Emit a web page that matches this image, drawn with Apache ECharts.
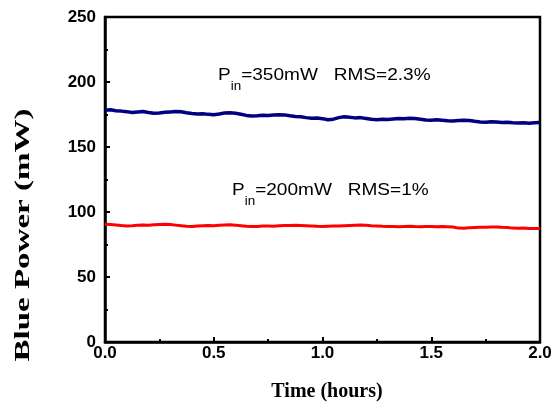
<!DOCTYPE html>
<html>
<head>
<meta charset="utf-8">
<script src="https://cdn.jsdelivr.net/npm/echarts@6/dist/echarts.min.js"></script>
<style>
html,body{margin:0;padding:0;background:#fff;}
#chart{width:556px;height:403px;}
</style>
</head>
<body>
<div id="chart"></div>
<script>
// Time sampling step (hours) for the recorded traces
const timeStep = 0.025;

// Blue power at Pin = 350 mW (mW)
const blue350 = [
  178.3,178.6,177.9,177.6,177.2,176.5,177.0,177.3,176.6,176.0,
  176.2,176.7,177.0,177.3,177.1,176.4,175.8,175.3,175.6,175.1,
  174.8,175.4,176.1,176.4,176.0,175.2,174.3,173.8,174.1,174.5,
  174.2,174.6,174.9,174.7,174.0,173.5,173.2,172.6,172.1,172.3,
  171.8,170.9,171.4,172.6,173.3,172.8,172.4,172.6,172.0,171.3,
  171.0,171.4,171.2,171.6,172.0,171.7,172.1,172.0,171.4,170.8,
  170.5,170.9,170.6,170.2,170.0,170.3,170.6,170.4,169.8,169.3,
  169.0,169.4,169.2,168.9,169.1,168.7,168.4,168.6,168.3,168.6,
  168.9
];

// Blue power at Pin = 200 mW (mW)
const red200 = [
  90.6,90.3,90.0,89.6,89.3,89.5,89.8,90.0,89.9,90.2,
  90.4,90.5,90.3,89.9,89.5,89.0,88.8,89.2,89.4,89.6,
  89.5,89.8,90.0,90.1,89.9,89.5,89.1,88.8,88.9,89.2,
  89.3,89.1,89.4,89.6,89.7,89.8,89.6,89.4,89.2,89.0,
  88.9,89.1,89.3,89.2,89.5,89.7,89.9,90.0,89.8,89.5,
  89.3,89.0,88.8,88.9,88.7,88.9,89.0,88.8,88.7,88.9,
  88.8,88.7,88.8,88.6,88.4,87.6,87.5,87.8,88.0,88.2,
  88.3,88.4,88.5,88.2,88.0,87.6,87.5,87.7,87.4,87.3,
  87.4
];

const xTicks = { min: 0, max: 2, interval: 0.5 };
const yTicks = { min: 0, max: 250, interval: 50 };

const xTitle = 'Time (hours)';
const yTitle = 'Blue Power (mW)';
const label350 = ['P', 'in', '=350mW   RMS=2.3%'];
const label200 = ['P', 'in', '=200mW   RMS=1%'];

const toPairs = arr => arr.map((v, i) => [+(i * timeStep).toFixed(3), v]);

const chart = echarts.init(document.getElementById('chart'), null, { renderer: 'canvas' });

const richStyle = {
  a: { fontSize: 17, fontFamily: 'Liberation Sans, Arial, sans-serif', fill: '#000', verticalAlign: 'top', lineHeight: 17 },
  s: { fontSize: 12, fontFamily: 'Liberation Sans, Arial, sans-serif', fill: '#000', verticalAlign: 'top', lineHeight: 12, padding: [14, 0, 0, 0] }
};
const richText = parts => '{a|' + parts[0] + '}{s|' + parts[1] + '}{a|' + parts[2] + '}';

chart.setOption({
  animation: false,
  backgroundColor: '#fff',
  grid: {
    left: 105, right: 16, top: 17, bottom: 61,
    containLabel: false,
    outerBoundsMode: 'none',
    show: true, borderColor: '#000', borderWidth: 2.5, backgroundColor: 'transparent'
  },
  xAxis: {
    type: 'value',
    min: xTicks.min, max: xTicks.max, interval: xTicks.interval,
    name: xTitle,
    nameLocation: 'middle',
    nameGap: 40,
    nameTextStyle: { fontFamily: 'Liberation Serif, Times New Roman, serif', fontWeight: 'bold', fontSize: 20, color: '#000', padding: [0, 0, 0, 9] },
    axisLine: { show: true, lineStyle: { color: '#000', width: 2.5 } },
    axisTick: { show: true, inside: true, length: 5, lineStyle: { color: '#000', width: 2 } },
    minorTick: { show: true, splitNumber: 2, length: 3, lineStyle: { color: '#000', width: 2 } },
    splitLine: { show: false },
    axisLabel: {
      margin: 3, color: '#000', fontWeight: 'bold', fontSize: 17,
      fontFamily: 'Liberation Sans, Arial, sans-serif',
      formatter: v => v.toFixed(1)
    }
  },
  yAxis: {
    type: 'value',
    min: yTicks.min, max: yTicks.max, interval: yTicks.interval,
    axisLine: { show: true, lineStyle: { color: '#000', width: 2.5 } },
    axisTick: { show: true, inside: true, length: 5, lineStyle: { color: '#000', width: 2 } },
    minorTick: { show: true, splitNumber: 2, length: 3, lineStyle: { color: '#000', width: 2 } },
    splitLine: { show: false },
    axisLabel: {
      margin: 9, color: '#000', fontWeight: 'bold', fontSize: 17,
      fontFamily: 'Liberation Sans, Arial, sans-serif'
    }
  },
  series: [
    {
      name: 'Pin=350mW', type: 'line', data: toPairs(blue350),
      showSymbol: false, symbol: 'none',
      lineStyle: { color: '#000080', width: 3.5 }, itemStyle: { color: '#000080' }
    },
    {
      name: 'Pin=200mW', type: 'line', data: toPairs(red200),
      showSymbol: false, symbol: 'none',
      lineStyle: { color: '#ff0000', width: 3 }, itemStyle: { color: '#ff0000' }
    }
  ],
  graphic: [
    {
      type: 'text', x: 23, y: 235, rotation: Math.PI / 2, scaleX: 1.5,
      style: {
        text: yTitle, fill: '#000',
        font: 'bold 22px "Liberation Serif", "Times New Roman", serif',
        align: 'center', verticalAlign: 'middle'
      }
    },
    {
      type: 'text', x: 218, y: 67, scaleX: 1.12,
      style: { text: richText(label350), rich: richStyle, verticalAlign: 'top', align: 'left' }
    },
    {
      type: 'text', x: 232, y: 182, scaleX: 1.12,
      style: { text: richText(label200), rich: richStyle, verticalAlign: 'top', align: 'left' }
    }
  ]
});
</script>
</body>
</html>
